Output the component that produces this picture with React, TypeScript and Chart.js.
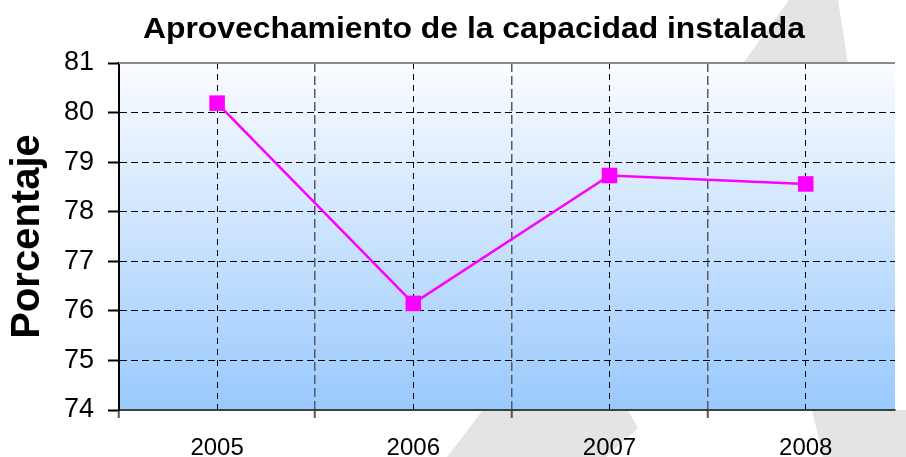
import React, { useEffect, useRef } from "react";
import { Chart, registerables } from "chart.js";

Chart.register(...registerables);

const TITLE = "Aprovechamiento de la capacidad instalada";
const Y_TITLE = "Porcentaje";
const years = ["2005", "2006", "2007", "2008"];
const values = [80.19, 76.15, 78.73, 78.56];
const Y_MIN = 74;
const Y_MAX = 81;
const X_MIN = -0.5;
const X_MAX = 3.455;

const SANS = "'Liberation Sans', Arial, Helvetica, sans-serif";

const isCenter = (v: number) => Math.abs(v - Math.round(v)) < 1e-6;

const decorPlugin = {
  id: "decor",
  beforeDraw(chart: any) {
    const { ctx, chartArea } = chart;
    ctx.save();
    // faint background watermark shapes
    ctx.fillStyle = "#e4e4e4";
    const polys = [
      [[743, 63], [789, 0], [838, 0], [848, 63]],
      [[447, 457], [483, 410], [628, 410], [638, 428], [606, 457]],
      [[812, 410], [906, 410], [906, 457], [823, 457]],
    ];
    for (const p of polys) {
      ctx.beginPath();
      ctx.moveTo(p[0][0], p[0][1]);
      for (let i = 1; i < p.length; i++) ctx.lineTo(p[i][0], p[i][1]);
      ctx.closePath();
      ctx.fill();
    }
    const g = ctx.createLinearGradient(0, chartArea.top, 0, chartArea.bottom);
    g.addColorStop(0, "#fbfcff");
    g.addColorStop(1, "#99c9fd");
    ctx.fillStyle = g;
    ctx.fillRect(chartArea.left, chartArea.top, chartArea.right - chartArea.left, chartArea.bottom - chartArea.top);
    ctx.restore();
  },
  afterDraw(chart: any) {
    const { ctx, chartArea } = chart;
    ctx.save();
    // top border of plot area
    ctx.strokeStyle = "#8a8a8a";
    ctx.lineWidth = 2;
    ctx.beginPath();
    ctx.moveTo(chartArea.left, chartArea.top);
    ctx.lineTo(chartArea.right, chartArea.top);
    ctx.stroke();
    // title
    ctx.font = "bold 29px " + SANS;
    ctx.fillStyle = "#000";
    ctx.textAlign = "center";
    ctx.textBaseline = "alphabetic";
    const w = ctx.measureText(TITLE).width;
    const sx = 662 / w;
    ctx.translate(474, 38);
    ctx.scale(sx, 1);
    ctx.fillText(TITLE, 0, 0);
    ctx.restore();
  },
};

export default function App() {
  const ref = useRef<HTMLCanvasElement | null>(null);
  useEffect(() => {
    if (!ref.current) return;
    const chart = new Chart(ref.current, {
      type: "line",
      data: {
        datasets: [
          {
            data: values.map((v, i) => ({ x: i, y: v })),
            borderColor: "#ff00ff",
            backgroundColor: "#ff00ff",
            borderWidth: 2.5,
            pointStyle: "rect",
            pointRadius: 11,
            pointBorderWidth: 0,
            pointBackgroundColor: "#ff00ff",
            tension: 0,
          },
        ],
      },
      plugins: [decorPlugin],
      options: {
        responsive: false,
        animation: false,
        layout: { padding: { top: 63, right: 0, left: 0, bottom: 0 } },
        plugins: { legend: { display: false }, tooltip: { enabled: false }, title: { display: false } },
        scales: {
          x: {
            type: "linear",
            position: "bottom",
            min: X_MIN,
            max: X_MAX,
            bounds: "data",
            afterFit: (s: any) => {
              s.height = 47;
            },
            ticks: {
              stepSize: 0.5,
              includeBounds: false,
              autoSkip: false,
              maxRotation: 0,
              padding: 16,
              color: "#000",
              font: { family: SANS, size: 24 },
              callback: (v: any) => (isCenter(Number(v)) ? years[Math.round(Number(v))] ?? "" : ""),
            },
            grid: {
              drawTicks: true,
              tickLength: 8,
              color: (c: any) => {
                const v = c.tick ? c.tick.value : 0;
                if (v <= X_MIN + 1e-6) return "rgba(0,0,0,0)";
                return isCenter(v) ? "#000000" : "#5a5a5a";
              },
              lineWidth: (c: any) => {
                const v = c.tick ? c.tick.value : 0;
                return isCenter(v) ? 1 : 1.5;
              },
              tickColor: (c: any) => {
                const v = c.tick ? c.tick.value : 0;
                return isCenter(v) ? "rgba(0,0,0,0)" : "#555555";
              },
              tickWidth: 2,
            },
            border: {
              display: true,
              color: "#404040",
              width: 2,
              dash: (c: any) => {
                const v = c.tick ? c.tick.value : 0;
                return isCenter(v) ? [6, 5] : [9, 4];
              },
            },
          },
          y: {
            type: "linear",
            min: Y_MIN,
            max: Y_MAX,
            afterFit: (s: any) => {
              s.width = 119;
            },
            ticks: {
              stepSize: 1,
              padding: 14,
              color: "#000",
              font: { family: SANS, size: 27 },
            },
            grid: {
              tickLength: 11,
              tickWidth: 2,
              tickColor: "#000",
              lineWidth: 1,
              color: (c: any) => {
                const v = c.tick ? c.tick.value : 0;
                return v <= Y_MIN || v >= Y_MAX ? "rgba(0,0,0,0)" : "#000000";
              },
            },
            border: { display: true, color: "#000", width: 2, dash: [7, 4] },
            title: {
              display: true,
              text: Y_TITLE,
              color: "#000",
              font: { family: SANS, size: 40, weight: "bold" },
              padding: { top: 4, bottom: 0 },
            },
          },
        },
      },
    } as any);
    return () => chart.destroy();
  }, []);
  return (
    <div style={{ position: "fixed", left: 0, top: 0, width: 906, height: 457, background: "#fff" }}>
      <canvas ref={ref} width={906} height={457} />
    </div>
  );
}
